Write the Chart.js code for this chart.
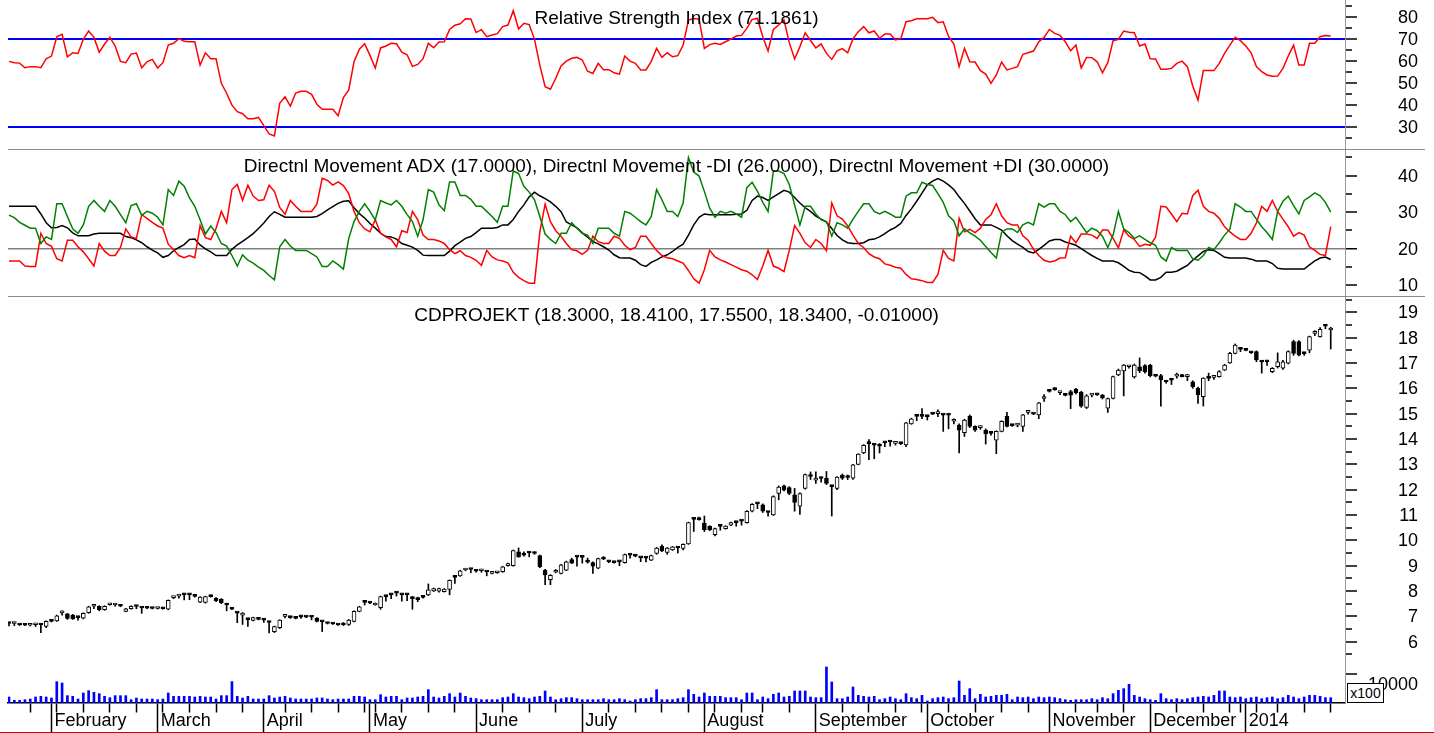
<!DOCTYPE html>
<html><head><meta charset="utf-8">
<script src="https://cdn.jsdelivr.net/npm/chart.js@4.4.0/dist/chart.umd.min.js"></script>
<style>
html,body{margin:0;padding:0;background:#fff;}
#wrap{position:relative;width:1434px;height:733px;overflow:hidden;background:#fff;font-family:"Liberation Sans",Arial,sans-serif;}
canvas{position:absolute;left:0;}
.title{position:absolute;left:8px;width:1337px;text-align:center;font-size:19px;line-height:19px;color:#000;white-space:nowrap;}
.sep{position:absolute;left:8px;width:1417px;height:1px;background:#8c8c8c;}
#x100{position:absolute;left:1347px;top:683px;width:35px;height:18px;border:1px solid #000;background:#fff;font-size:14px;line-height:18px;text-align:center;color:#000;}
#redline{position:absolute;left:0;top:732px;width:1434px;height:1px;background:#cc0000;}
</style></head><body>
<div id="wrap">
<canvas id="cRsi" width="1434" height="149" style="top:0;width:1434px;height:149px"></canvas>
<canvas id="cDmi" width="1434" height="148" style="top:149px;width:1434px;height:148px"></canvas>
<canvas id="cPrice" width="1434" height="366" style="top:297px;width:1434px;height:366px"></canvas>
<canvas id="cVol" width="1434" height="70" style="top:663px;width:1434px;height:70px"></canvas>
<div class="sep" style="top:149px"></div>
<div class="sep" style="top:296px"></div>
<div class="title" style="top:8px">Relative Strength Index (71.1861)</div>
<div class="title" style="top:156px">Directnl Movement ADX (17.0000), Directnl Movement -DI (26.0000), Directnl Movement +DI (30.0000)</div>
<div class="title" style="top:305px">CDPROJEKT (18.3000, 18.4100, 17.5500, 18.3400, -0.01000)</div>
<div id="x100">x100</div>
<div id="redline"></div>
</div>
<script>
// ---------- DATA ----------
const monthTicks = [8, 28, 48, 68, 88, 108, 131, 152, 173, 196, 215, 233];
const monthLabels = ['February','March','April','May','June','July','August','September','October','November','December','2014'];
const weekTicks = [4, 9, 14, 19, 24, 29, 34, 39, 44, 52, 57, 62, 67, 69, 74, 79, 84, 93, 98, 103, 113, 118, 123, 128, 133, 138, 142, 147, 157, 162, 167, 172, 177, 182, 187, 192, 201, 205, 210, 220, 225, 230, 232, 235, 239, 244, 249];

const rsiTicks = [25, 30, 35, 40, 45, 50, 55, 60, 65, 70, 75, 80, 85];
const dmiTicks = [10, 15, 20, 25, 30, 35, 40, 45];
const priceTicks = [5.5, 6, 6.5, 7, 7.5, 8, 8.5, 9, 9.5, 10, 10.5, 11, 11.5, 12, 12.5, 13, 13.5, 14, 14.5, 15, 15.5, 16, 16.5, 17, 17.5, 18, 18.5, 19, 19.5];
const volTicks = [10000];
const rsiLevels = [30, 70];
const dmiLevels = [20];

const rsi = [
59.7,59.1,58.9,56.8,57.3,57.3,56.8,60.9,62.1,70.9,
72.0,61.7,63.6,63.3,69.7,73.5,70.6,63.8,67.6,70.6,
66.7,59.7,59.1,63.0,63.5,56.8,59.5,60.6,56.7,59.1,
67.1,67.9,70.0,68.8,68.6,68.6,58.0,63.6,60.9,60.9,
49.7,45.2,39.8,36.8,35.9,33.6,33.6,34.2,30.5,26.7,
25.8,40.6,43.6,39.4,45.3,46.1,46.1,44.7,40.2,37.9,
37.9,37.9,35.0,43.2,46.7,59.5,65.2,67.7,62.4,56.7,
65.8,66.7,67.9,67.7,63.9,62.7,57.4,58.3,60.9,67.9,
65.9,68.5,68.6,74.2,76.1,76.8,79.1,79.0,72.8,74.1,
70.9,71.7,72.3,75.5,76.2,82.7,74.4,77.0,76.4,69.7,
58.0,48.2,47.0,52.0,57.6,59.8,61.1,61.5,60.3,55.2,
54.2,58.8,55.9,55.9,54.5,53.9,62.1,59.8,58.8,55.8,
55.8,59.7,65.6,61.5,63.6,61.8,62.3,67.1,78.5,79.2,
78.9,65.6,67.3,67.9,67.4,68.6,69.8,71.2,71.5,74.7,
78.8,79.2,70.9,64.4,74.2,76.2,78.5,68.2,60.8,66.4,
72.7,69.2,65.8,67.6,63.3,60.6,64.5,65.5,63.6,70.0,
73.2,75.5,72.7,73.5,70.2,72.1,72.1,69.4,70.0,77.7,
78.2,79.1,79.1,79.1,79.7,77.3,77.7,71.0,67.6,57.3,
65.6,59.5,59.4,55.5,53.9,49.7,53.5,59.4,55.8,56.5,
57.3,62.9,63.6,64.4,68.6,70.6,74.2,72.4,71.5,68.6,
64.5,67.1,56.7,61.5,61.4,59.5,54.5,59.1,69.1,69.7,
73.5,72.9,72.7,66.7,67.6,60.9,60.8,56.1,56.1,56.5,
58.8,59.8,57.3,48.5,42.1,55.5,55.5,55.5,58.8,63.3,
67.1,70.6,69.1,66.7,63.6,57.3,55.0,53.5,52.9,53.0,
56.5,62.1,67.1,58.0,58.0,67.9,67.9,70.9,71.4,71.2];

const adx = [
31.6,31.6,31.6,31.6,31.6,31.6,29.5,27.1,25.7,25.8,
26.3,25.7,24.3,23.5,23.5,23.5,24.0,24.2,24.2,24.2,
24.2,24.2,23.3,23.0,22.4,21.6,20.5,19.6,18.8,17.6,
18.1,19.4,20.3,21.1,22.5,22.6,21.0,19.9,19.1,18.1,
18.1,18.1,19.8,21.0,22.0,23.0,24.1,25.5,27.0,28.8,
30.1,29.4,28.6,28.6,28.6,28.6,28.6,28.6,28.8,29.6,
30.6,31.5,32.4,33.0,33.1,31.2,29.6,28.4,26.9,25.6,
24.2,23.3,23.2,22.6,21.4,20.9,20.4,19.5,18.2,18.1,
18.1,18.1,18.1,19.3,20.8,21.8,22.8,23.3,24.4,25.6,
25.6,25.6,25.8,26.5,26.5,28.0,30.2,32.0,34.2,35.5,
34.5,33.7,32.8,31.6,30.1,27.3,26.5,25.7,24.3,23.1,
21.9,21.3,20.5,19.6,18.3,17.5,17.4,17.4,16.8,15.6,
15.1,16.2,16.9,17.7,18.3,19.2,20.3,21.2,23.7,26.5,
28.6,29.5,29.3,29.3,29.3,29.3,29.3,29.4,29.5,30.5,
33.2,34.4,34.0,33.2,34.2,35.1,36.0,35.5,34.0,32.5,
31.2,30.2,28.9,28.1,27.3,25.5,23.6,22.4,21.6,21.4,
21.4,21.6,22.4,22.6,23.2,24.1,25.1,25.8,26.9,29.1,
30.9,33.0,35.2,37.5,38.5,39.2,38.5,37.5,36.2,34.2,
32.4,30.3,28.2,26.5,26.5,26.5,25.8,25.1,23.5,22.2,
21.2,20.3,19.2,18.8,19.8,20.9,22.1,22.5,22.5,21.8,
21.4,20.9,20.0,19.0,18.1,17.3,16.6,16.6,16.6,16.1,
15.1,14.0,13.5,13.4,12.5,11.4,11.4,12.1,13.5,13.5,
13.8,14.6,15.4,16.8,18.0,19.2,19.7,19.5,18.6,17.6,
17.4,17.4,17.4,17.4,17.1,16.6,16.6,16.6,15.9,14.6,
14.4,14.4,14.4,14.4,14.4,15.5,16.6,17.4,17.7,17.0];

const minusDI = [
16.6,16.6,16.6,15.2,15.1,15.1,24.2,21.4,20.6,17.2,
16.6,22.3,22.3,20.5,19.1,17.2,15.2,21.4,19.3,18.1,
18.1,20.3,25.4,23.2,22.8,29.3,28.3,27.2,26.2,25.6,
21.2,19.7,18.1,17.5,18.1,17.5,26.3,23.0,22.5,25.5,
30.2,27.1,36.2,37.6,33.2,37.4,34.4,33.2,33.4,37.4,
35.7,31.3,29.4,33.2,31.6,30.2,30.2,30.2,32.2,39.3,
38.7,37.4,38.3,37.3,35.1,30.2,27.1,25.4,24.6,27.9,
24.2,23.2,22.5,20.5,24.9,24.4,30.2,27.9,23.7,22.5,
22.5,22.1,21.4,19.7,18.6,19.4,18.1,17.6,16.8,15.4,
19.5,17.7,16.9,16.6,16.1,13.5,12.1,11.2,10.5,10.5,
24.6,32.2,27.4,24.9,23.4,21.4,19.7,19.4,18.4,19.5,
23.4,21.9,21.4,21.4,23.4,22.8,20.9,19.7,20.3,23.4,
23.4,21.4,19.5,18.1,17.5,17.2,16.6,16.0,14.0,11.7,
10.5,14.2,19.5,17.7,16.9,16.3,15.6,14.9,14.2,13.8,
12.8,11.5,15.2,19.5,15.2,14.6,13.7,19.5,26.3,24.2,
21.6,20.3,22.5,21.4,19.4,32.5,29.0,28.1,26.2,23.7,
21.4,20.3,18.6,17.7,17.2,15.8,15.4,14.9,14.6,12.9,
11.7,11.5,11.2,10.7,10.7,12.9,19.5,17.3,16.6,28.3,
24.6,25.3,24.4,25.6,28.0,29.3,32.3,29.0,27.1,26.5,
26.5,23.5,22.3,19.8,18.1,16.8,16.3,16.6,17.4,17.5,
23.4,21.6,24.0,24.0,23.7,22.8,25.1,25.1,22.8,20.2,
25.1,23.4,22.5,20.6,21.2,20.9,23.1,31.6,31.4,29.5,
27.4,29.7,29.5,34.5,36.0,31.6,30.2,29.7,28.3,26.0,
24.6,23.4,22.5,22.5,24.2,27.0,31.6,30.2,33.2,30.2,
28.1,26.0,23.4,24.4,23.7,20.5,19.5,18.4,18.1,26.0];

const plusDI = [
29.2,28.5,27.2,26.4,25.6,25.6,21.4,23.2,22.5,32.3,
32.3,28.8,25.4,24.2,26.5,31.6,33.2,31.6,30.2,33.2,
31.6,29.3,27.1,31.8,32.3,29.1,30.2,29.7,28.6,26.5,
36.2,34.6,38.5,37.1,33.9,31.6,27.9,24.0,26.2,24.4,
21.4,20.7,18.1,15.2,18.3,16.8,16.0,14.9,14.0,12.6,
11.4,20.5,22.5,20.7,19.5,19.5,19.5,18.6,17.7,15.1,
15.1,16.6,15.6,14.4,22.8,27.4,30.2,32.3,30.2,27.9,
33.2,32.5,32.0,33.2,31.6,29.3,27.4,23.4,27.9,36.2,
35.5,32.0,30.4,38.3,38.3,34.6,34.6,33.5,31.6,31.6,
30.2,28.8,27.2,31.6,31.6,41.3,40.6,37.1,35.5,33.4,
28.8,24.0,22.5,21.4,24.2,24.2,27.1,25.6,24.2,23.7,
21.4,25.6,25.6,25.6,24.2,23.4,30.2,29.7,28.6,27.4,
26.5,28.8,36.2,33.4,30.2,30.2,28.8,32.5,45.0,41.0,
39.9,35.7,31.1,28.6,30.2,29.7,30.2,29.5,28.6,36.7,
38.2,35.7,32.7,30.2,41.3,41.3,40.6,37.6,32.0,26.5,
31.6,31.6,29.5,27.9,27.4,23.4,27.1,26.5,25.6,28.1,
30.2,32.3,32.3,30.2,29.5,30.2,29.5,28.6,28.6,34.4,
35.3,35.3,38.2,37.6,37.3,35.1,32.7,29.0,27.6,23.5,
25.4,24.3,23.4,22.3,20.6,18.9,17.4,24.5,25.4,25.4,
24.4,26.5,27.2,26.5,32.3,31.4,32.3,32.3,30.2,29.3,
27.4,28.6,26.5,24.4,25.6,24.9,23.4,20.3,23.7,30.2,
25.4,24.4,22.8,23.5,22.5,21.6,20.9,17.7,16.6,20.3,
19.5,19.5,19.5,17.2,16.8,18.1,20.3,19.7,21.6,23.7,
25.3,32.3,31.4,30.2,30.2,28.1,26.0,24.4,22.5,30.2,
33.0,34.4,31.8,29.5,33.2,34.2,35.3,34.5,32.7,30.0];

const openP = [
6.73,6.72,6.68,6.66,6.65,6.67,6.68,6.60,6.84,6.82,
7.14,7.10,7.05,6.96,6.93,7.15,7.40,7.40,7.26,7.46,
7.45,7.42,7.20,7.30,7.40,7.34,7.33,7.32,7.31,7.32,
7.28,7.74,7.80,7.86,7.86,7.80,7.56,7.55,7.82,7.72,
7.68,7.46,7.34,7.14,7.05,6.88,6.84,6.93,6.86,6.78,
6.40,6.55,7.00,6.97,6.93,6.99,6.98,6.98,6.93,6.79,
6.73,6.71,6.67,6.74,6.68,6.80,7.20,7.56,7.53,7.45,
7.34,7.79,7.86,7.93,7.86,7.86,7.76,7.74,7.76,7.85,
8.00,7.99,7.98,8.06,8.55,8.60,8.83,8.86,8.80,8.80,
8.76,8.70,8.72,8.76,9.00,9.00,9.55,9.50,9.52,9.52,
9.40,8.82,8.45,8.74,8.70,8.82,9.24,9.35,9.34,9.22,
9.12,8.90,9.34,9.17,9.13,9.16,9.12,9.43,9.42,9.32,
9.31,9.22,9.48,9.76,9.52,9.62,9.72,9.68,9.86,10.84,
10.88,10.68,10.55,10.22,10.56,10.46,10.60,10.72,10.77,10.70,
11.15,11.45,11.40,11.12,11.00,11.85,12.15,12.08,11.80,11.35,
12.05,12.55,12.38,12.45,12.45,12.15,12.05,12.58,12.55,12.45,
13.00,13.45,13.84,13.78,13.80,13.86,13.90,13.83,13.83,13.77,
14.60,14.90,14.90,14.90,15.00,15.00,14.95,14.95,14.70,14.55,
14.25,14.90,14.50,14.45,14.35,14.28,13.95,14.30,14.90,14.55,
14.55,14.50,15.05,15.00,14.95,15.60,15.90,16.00,15.83,15.74,
15.87,15.97,15.85,15.25,15.73,15.76,15.73,15.22,15.60,16.53,
16.69,16.85,16.45,16.85,16.90,16.92,16.50,16.50,16.27,16.33,
16.48,16.48,16.46,16.26,16.00,15.67,16.40,16.43,16.46,16.72,
17.00,17.38,17.55,17.51,17.41,17.45,17.05,17.06,16.66,16.85,
16.80,16.99,17.84,17.84,17.38,17.51,18.17,18.04,18.46,18.30];

const highP = [
6.76,6.76,6.70,6.68,6.68,6.72,6.72,6.82,6.86,7.05,
7.22,7.12,7.08,6.98,7.14,7.40,7.48,7.42,7.42,7.50,
7.50,7.44,7.32,7.42,7.42,7.36,7.35,7.34,7.34,7.35,
7.65,7.78,7.86,7.88,7.88,7.82,7.78,7.80,7.84,7.74,
7.70,7.52,7.36,7.16,7.15,6.90,6.97,6.95,6.90,6.80,
6.62,6.87,7.06,6.99,6.95,7.01,7.00,7.00,6.95,6.81,
6.75,6.73,6.69,6.76,6.88,7.22,7.40,7.58,7.55,7.53,
7.80,7.81,7.88,7.96,7.88,7.88,7.78,7.76,7.78,8.28,
8.12,8.12,8.10,8.44,8.62,8.82,8.86,8.88,8.82,8.86,
8.78,8.76,8.77,8.98,9.10,9.62,9.70,9.55,9.54,9.55,
9.42,8.86,8.65,8.85,9.05,9.18,9.30,9.37,9.36,9.30,
9.15,9.30,9.36,9.19,9.15,9.18,9.46,9.45,9.44,9.34,
9.34,9.42,9.72,9.82,9.72,9.76,9.74,9.86,10.72,10.88,
10.92,10.96,10.58,10.48,10.58,10.58,10.72,10.74,10.79,11.18,
11.45,11.48,11.44,11.14,11.76,12.15,12.18,12.12,12.05,11.88,
12.62,12.70,12.70,12.50,12.72,12.17,12.52,12.62,12.58,13.00,
13.42,13.78,13.98,13.80,13.82,13.88,13.92,13.90,13.85,14.66,
14.82,14.92,15.20,14.92,15.02,15.15,14.98,14.97,14.80,14.60,
14.78,14.95,14.52,14.52,14.40,14.30,14.32,14.72,15.05,14.58,
14.62,14.97,15.12,15.02,15.45,15.75,15.95,16.02,15.88,15.76,
15.92,16.00,15.88,15.75,15.80,15.79,15.76,15.62,16.48,16.76,
16.94,16.88,16.96,17.20,16.94,16.95,16.52,16.55,16.30,16.35,
16.60,16.55,16.55,16.30,16.05,16.42,16.60,16.50,16.70,16.95,
17.42,17.75,17.60,17.53,17.43,17.48,17.08,17.08,16.82,17.40,
17.10,17.48,17.90,17.88,17.42,18.06,18.28,18.40,18.50,18.41];

const lowP = [
6.62,6.63,6.64,6.63,6.62,6.60,6.36,6.55,6.78,6.80,
7.05,6.88,6.88,6.85,6.90,7.12,7.30,7.22,7.24,7.44,
7.40,7.38,7.18,7.28,7.30,7.12,7.30,7.29,7.29,7.28,
7.26,7.70,7.72,7.65,7.66,7.76,7.54,7.52,7.76,7.58,
7.50,7.22,7.26,6.75,6.68,6.60,6.82,6.86,6.76,6.35,
6.36,6.52,6.94,6.92,6.90,6.92,6.95,6.86,6.78,6.40,
6.70,6.68,6.64,6.64,6.64,6.78,7.18,7.45,7.50,7.44,
7.28,7.60,7.70,7.80,7.60,7.62,7.28,7.58,7.72,7.82,
7.98,7.96,7.96,7.85,8.30,8.58,8.80,8.72,8.74,8.74,
8.60,8.68,8.70,8.74,8.98,8.98,9.33,9.38,9.35,9.45,
8.92,8.25,8.25,8.72,8.68,8.80,9.08,8.98,9.10,9.10,
8.70,8.88,9.24,9.12,9.10,9.00,9.10,9.30,9.35,9.16,
9.15,9.20,9.45,9.55,9.45,9.60,9.50,9.62,9.84,10.35,
10.80,10.35,10.38,10.18,10.40,10.44,10.58,10.56,10.60,10.68,
11.12,11.25,11.10,10.95,10.98,11.60,11.95,11.80,11.15,11.02,
12.02,12.40,12.25,12.30,12.20,10.96,12.00,12.40,12.40,12.40,
12.98,13.42,13.18,13.22,13.45,13.70,13.72,13.76,13.78,13.70,
14.58,14.72,14.80,14.75,14.96,14.88,14.30,14.40,14.60,13.45,
14.10,14.45,14.30,14.38,13.80,14.15,13.42,14.28,14.48,14.50,
14.48,14.30,14.98,14.96,14.80,15.48,15.85,15.92,15.75,15.70,
15.20,15.78,15.25,15.20,15.66,15.72,15.58,15.05,15.58,16.50,
15.70,16.80,16.40,16.62,16.60,16.45,16.45,15.30,16.20,16.15,
16.40,16.45,16.30,16.00,15.40,15.30,16.30,16.35,16.44,16.70,
16.98,17.36,17.45,17.48,17.38,17.05,16.60,16.90,16.62,16.80,
16.75,16.96,17.30,17.28,17.30,17.40,18.08,18.02,18.35,17.55];

const closeP = [
6.72,6.73,6.66,6.65,6.66,6.68,6.66,6.80,6.80,7.02,
7.15,6.92,6.90,6.95,7.12,7.38,7.41,7.26,7.40,7.48,
7.46,7.40,7.30,7.40,7.39,7.33,7.32,7.31,7.32,7.30,
7.63,7.76,7.81,7.85,7.85,7.79,7.76,7.78,7.78,7.62,
7.54,7.45,7.28,7.13,7.06,6.87,6.95,6.88,6.85,6.76,
6.60,6.85,7.01,6.95,6.92,6.98,6.97,6.97,6.80,6.78,
6.72,6.70,6.66,6.66,6.85,7.20,7.38,7.55,7.52,7.46,
7.78,7.78,7.85,7.92,7.85,7.85,7.70,7.66,7.75,8.05,
8.10,8.10,8.08,8.42,8.54,8.80,8.84,8.85,8.78,8.81,
8.75,8.74,8.75,8.96,9.08,9.60,9.35,9.42,9.50,9.48,
8.95,8.64,8.62,8.82,9.03,9.15,9.10,9.34,9.33,9.14,
8.98,9.28,9.26,9.15,9.12,9.15,9.44,9.42,9.38,9.31,
9.30,9.40,9.70,9.58,9.70,9.74,9.70,9.84,10.70,10.83,
10.82,10.42,10.42,10.46,10.55,10.56,10.70,10.70,10.76,11.15,
11.42,11.44,11.15,11.10,11.73,12.10,11.98,11.85,11.50,11.85,
12.60,12.52,12.40,12.44,12.25,12.12,12.50,12.45,12.48,12.98,
13.40,13.75,13.82,13.76,13.72,13.85,13.88,13.84,13.82,14.64,
14.80,14.89,14.89,14.88,14.98,15.01,14.94,14.94,14.71,14.35,
14.75,14.50,14.35,14.46,14.20,14.22,14.30,14.70,14.50,14.53,
14.56,14.95,15.06,14.98,15.43,15.61,15.88,15.95,15.84,15.72,
15.73,15.82,15.30,15.70,15.74,15.74,15.62,15.60,16.46,16.72,
16.92,16.86,16.92,16.70,16.66,16.50,16.48,16.33,16.25,16.32,
16.49,16.46,16.47,16.07,15.74,16.40,16.39,16.44,16.66,16.92,
17.38,17.71,17.54,17.50,17.40,17.12,17.04,17.05,16.79,17.05,
17.05,17.45,17.38,17.31,17.37,18.04,18.18,18.33,18.45,18.34];

const volume = [
2040,900,900,1130,1360,2040,2270,2040,1700,7260,
6800,2500,2270,1360,3400,4200,3630,3180,2270,1810,
2500,2500,2500,1130,1700,1360,1360,1360,1130,1360,
3400,2270,2270,2270,2270,2040,2270,2040,2040,1360,
2500,2500,7260,2270,1700,2270,1360,1360,1360,2500,
1700,2040,2270,1700,1360,1360,1360,1360,1700,1700,
1360,1130,1360,1360,1360,2270,2270,2040,1130,1130,
2830,2040,2270,2270,1130,1700,1700,2040,2270,4540,
2040,1700,2270,3180,2040,3400,2270,1700,1500,1130,
1130,1130,1130,1810,2040,3180,2040,1810,1470,2040,
2270,4080,2040,1130,1470,1810,1810,1470,1130,1130,
1130,1130,1470,1130,1130,1470,1130,680,1130,1470,
1470,1810,4540,1130,1130,1130,1470,1810,4540,2950,
2040,3400,2270,2270,2270,1810,1810,1810,1130,3400,
3400,1130,2040,1470,2950,3400,2040,2270,4080,4080,
4080,2040,1810,1810,12250,7150,1470,1470,2040,5440,
2610,2270,2040,2270,1130,1470,2040,1470,1130,3180,
1810,1470,2610,680,1470,1810,2040,1470,1810,7480,
2610,4880,1470,2950,2040,2270,2610,2610,2950,1130,
2040,1810,2040,1470,2040,1810,2040,1810,1470,1130,
910,1130,1130,1130,1470,1130,1810,1470,3180,4310,
4880,6350,2610,2040,1470,1130,910,3180,1470,1130,
1470,1130,1470,1810,2040,2270,2040,2610,4080,4080,
2040,1810,2040,1470,1810,2040,1470,1810,2040,1470,
1810,2610,2040,1470,2040,2610,2610,2270,1810,1810];

// ---------- RENDER ----------
const FONT = '"Liberation Sans", Arial, sans-serif';
Chart.defaults.font.family = FONT;
const X_MIN = -0.19, X_MAX = 251.69;
const pts = arr => arr.map((v, i) => ({x: i, y: v}));

const common = {
  responsive: false, animation: false, events: [], devicePixelRatio: 1,
  layout: {padding: {left: 8, right: 16, top: 0, bottom: 0}},
  plugins: {legend: {display: false}, tooltip: {enabled: false}, title: {display: false}}
};
const xHidden = () => ({type: 'linear', min: X_MIN, max: X_MAX, display: false, offset: false,
  grid: {offset: false}});

function yScale(min, max, tickVals, isMajor, levels, lvlColor, lvlWidth, lblOffset) {
  const isLvl = c => c.tick && levels.includes(c.tick.value);
  return {
    position: 'right', min: min, max: max,
    afterBuildTicks: s => { s.ticks = tickVals.map(v => ({value: v})); },
    afterFit: s => { s.width = 73; s.paddingTop = 0; s.paddingBottom = 0; },
    border: {display: true, color: '#9a9a9a', width: 1},
    grid: {
      drawOnChartArea: true, drawTicks: true, tickLength: 12, offset: false,
      color: c => isLvl(c) ? lvlColor : 'rgba(0,0,0,0)',
      lineWidth: c => isLvl(c) ? lvlWidth : 0,
      tickColor: '#000', tickWidth: 1.5,
      tickBorderDash: c => (c.tick && isMajor(c.tick.value)) ? [] : [6, 40]
    },
    ticks: {
      autoSkip: false, crossAlign: 'far', padding: 4, labelOffset: lblOffset, color: '#000',
      font: {family: FONT, size: 18},
      callback: v => isMajor(v) ? String(v) : ''
    }
  };
}

const lineDs = (data, color) => ({type: 'line', data: pts(data), borderColor: color, borderWidth: 1.5,
  pointRadius: 0, tension: 0, fill: false});

// RSI
new Chart(document.getElementById('cRsi'), {
  type: 'line',
  data: {datasets: [lineDs(rsi, '#ff0000')]},
  options: Object.assign({}, common, {scales: {
    x: xHidden(),
    y: yScale(19.86, 87.59, rsiTicks, v => v % 10 === 0, rsiLevels, '#0000ff', 2, 1)
  }})
});

// DMI
new Chart(document.getElementById('cDmi'), {
  type: 'line',
  data: {datasets: [lineDs(plusDI, '#008000'), lineDs(minusDI, '#ff0000'), lineDs(adx, '#000000')]},
  options: Object.assign({}, common, {scales: {
    x: xHidden(),
    y: yScale(6.71, 47.33, dmiTicks, v => v % 10 === 0, dmiLevels, '#808080', 1.5, 1)
  }})
});

// Price candlesticks
new Chart(document.getElementById('cPrice'), {
  type: 'bar',
  data: {datasets: [
    {type: 'bar', data: closeP.map((c, i) => ({x: i, y: [openP[i], c]})),
     backgroundColor: closeP.map((c, i) => c >= openP[i] ? '#ffffff' : '#000000'),
     borderColor: '#000', borderWidth: 1, borderSkipped: false, barThickness: 4, minBarLength: 2,
     grouped: false, order: 1},
    {type: 'bar', data: lowP.map((l, i) => ({x: i, y: [l, highP[i]]})),
     backgroundColor: '#000', borderWidth: 0, barThickness: 1, grouped: false, order: 2}
  ]},
  options: Object.assign({}, common, {scales: {
    x: xHidden(),
    y: yScale(5.1602, 19.6038, priceTicks, v => Math.abs(v - Math.round(v)) < 1e-6, [], '#000', 0, 1)
  }})
});

// Volume + date axis
const allX = monthTicks.concat(weekTicks.filter(v => !monthTicks.includes(v))).sort((a, b) => a - b);
new Chart(document.getElementById('cVol'), {
  type: 'bar',
  data: {datasets: [{type: 'bar', data: pts(volume), backgroundColor: '#0000ff', borderWidth: 0,
    barThickness: 2, grouped: false}]},
  options: Object.assign({}, common, {scales: {
    x: {
      type: 'linear', min: X_MIN, max: X_MAX, position: 'bottom', offset: false,
      afterBuildTicks: s => { s.ticks = allX.map(v => ({value: v})); },
      afterFit: s => { s.height = 30; s.paddingLeft = 0; s.paddingRight = 0; },
      border: {display: true, color: '#000', width: 1.5},
      grid: {drawOnChartArea: false, drawTicks: true, offset: false, tickLength: 30, tickColor: '#000', tickWidth: 1.5,
        tickBorderDash: c => (c.tick && monthTicks.includes(c.tick.value)) ? [] : [9, 40]},
      ticks: {autoSkip: false, maxRotation: 0, minRotation: 0, align: 'start', padding: -23, labelOffset: 3,
        color: '#000', font: {family: FONT, size: 18},
        callback: v => { const k = monthTicks.indexOf(v); return k >= 0 ? monthLabels[k] : ''; }}
    },
    y: yScale(0, 13600, volTicks, v => true, [], '#000', 0, 11)
  }})
});
</script>
</body></html>
